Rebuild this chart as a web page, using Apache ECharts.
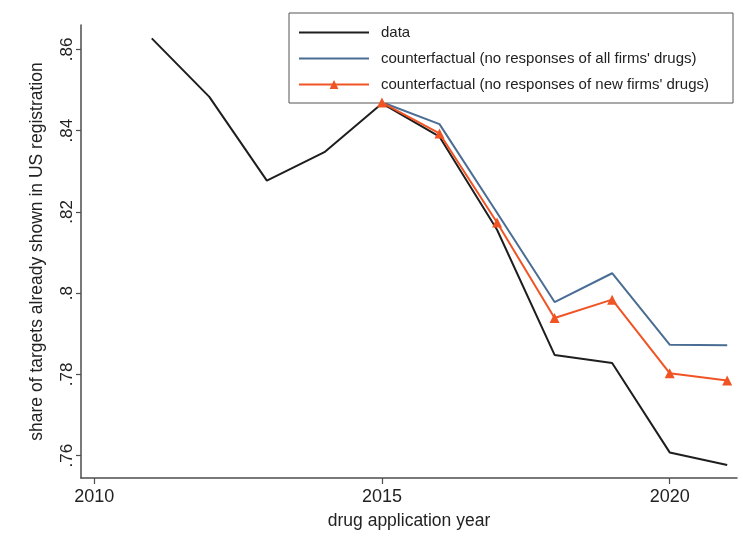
<!DOCTYPE html>
<html>
<head>
<meta charset="utf-8">
<script src="https://cdn.jsdelivr.net/npm/echarts@6/dist/echarts.min.js"></script>
<style>
  html, body { margin: 0; padding: 0; background: #ffffff; }
  #chart { width: 743px; height: 548px; }
</style>
</head>
<body>
<div id="chart"></div>
<script>
// Application years and the share of targets already shown in US registration
const years = [2011, 2012, 2013, 2014, 2015, 2016, 2017, 2018, 2019, 2020, 2021];
const dataShare = [0.8627, 0.8483, 0.8277, 0.8347, 0.8467, 0.8385, 0.8156, 0.7848, 0.7828, 0.7608, 0.7577];

// Counterfactual paths start in 2015
const cfYears = [2015, 2016, 2017, 2018, 2019, 2020, 2021];
const cfAllFirms = [0.8470, 0.8416, 0.8198, 0.7978, 0.8049, 0.7873, 0.7872];
const cfNewFirms = [0.8469, 0.8393, 0.8174, 0.7939, 0.7984, 0.7803, 0.7785];

const xTicks = [2010, 2015, 2020];
const yTicks = [0.76, 0.78, 0.80, 0.82, 0.84, 0.86];

const seriesNames = [
  'data',
  "counterfactual (no responses of all firms' drugs)",
  "counterfactual (no responses of new firms' drugs)"
];

const zip = (xs, ys) => xs.map((x, i) => [x, ys[i]]);
const fmtY = v => {
  const s = (Math.round(v * 100) / 100).toString();
  return s.replace(/^0/, '');
};

const FONT = '"Liberation Sans", Arial, sans-serif';
const AXIS_COLOR = '#4d4d4d';

const chart = echarts.init(document.getElementById('chart'), null, { renderer: 'canvas' });
chart.setOption({
  backgroundColor: '#ffffff',
  animation: false,
  textStyle: { fontFamily: FONT },
  grid: { left: 81, right: 6, top: 25, bottom: 70, containLabel: false },
  legend: {
    orient: 'vertical',
    left: 289,
    top: 13,
    padding: [12, 24, 11, 9],
    itemWidth: 70,
    itemHeight: 11,
    itemGap: 11,
    borderColor: '#555555',
    borderWidth: 1,
    backgroundColor: '#ffffff',
    textStyle: { fontFamily: FONT, fontSize: 15, color: '#222222', padding: [0, 0, 0, 7] },
    data: [
      // plain lines carry no marker in the key
      { name: seriesNames[0], itemStyle: { opacity: 0 } },
      { name: seriesNames[1], itemStyle: { opacity: 0 } },
      { name: seriesNames[2] }
    ]
  },
  xAxis: {
    type: 'value',
    min: 2009.77,
    max: 2021.17,
    name: 'drug application year',
    nameLocation: 'middle',
    nameGap: 34,
    nameTextStyle: { fontFamily: FONT, fontSize: 17.5, color: '#222222' },
    splitLine: { show: false },
    axisLine: { lineStyle: { color: AXIS_COLOR, width: 1.5 } },
    axisTick: { show: true, length: 6, customValues: xTicks, lineStyle: { color: AXIS_COLOR, width: 1.2 } },
    axisLabel: {
      customValues: xTicks,
      margin: 10,
      fontFamily: FONT, fontSize: 18, color: '#222222',
      formatter: v => String(Math.round(v))
    }
  },
  yAxis: {
    type: 'value',
    min: 0.7545,
    max: 0.866,
    name: 'share of targets already shown in US registration',
    nameLocation: 'middle',
    nameGap: 35,
    nameRotate: 90,
    nameTextStyle: { fontFamily: FONT, fontSize: 17.5, color: '#222222' },
    splitLine: { show: false },
    axisLine: { show: true, lineStyle: { color: AXIS_COLOR, width: 1.5 } },
    axisTick: { show: true, length: 5, customValues: yTicks, lineStyle: { color: AXIS_COLOR, width: 1.2 } },
    axisLabel: {
      customValues: yTicks,
      rotate: 90,
      margin: 5,
      fontFamily: FONT, fontSize: 17, color: '#222222',
      formatter: v => fmtY(v)
    }
  },
  series: [
    {
      name: seriesNames[0],
      type: 'line',
      data: zip(years, dataShare),
      symbol: 'none',
      lineStyle: { color: '#1e1e1e', width: 2 },
      itemStyle: { color: '#1e1e1e' },
      z: 3
    },
    {
      name: seriesNames[1],
      type: 'line',
      data: zip(cfYears, cfAllFirms),
      symbol: 'none',
      lineStyle: { color: '#4a6d93', width: 2 },
      itemStyle: { color: '#4a6d93' },
      z: 2
    },
    {
      name: seriesNames[2],
      type: 'line',
      data: zip(cfYears, cfNewFirms),
      symbol: 'triangle',
      symbolSize: 10,
      showAllSymbol: true,
      lineStyle: { color: '#f05424', width: 2 },
      itemStyle: { color: '#f05424' },
      z: 4
    }
  ]
});
</script>
</body>
</html>
